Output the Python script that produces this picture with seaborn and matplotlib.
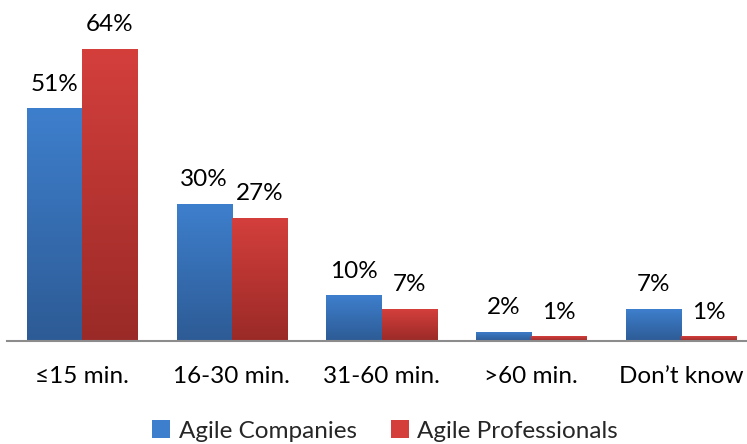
import numpy as np
import pandas as pd
import matplotlib
matplotlib.use("Agg")
import matplotlib.pyplot as plt
import seaborn as sns
from matplotlib.colors import LinearSegmentedColormap
from matplotlib.patches import Rectangle

categories = ["≤15 min.", "16-30 min.", "31-60 min.", ">60 min.", "Don’t know"]
series_names = ["Agile Companies", "Agile Professionals"]
companies = [51, 30, 10, 2, 7]
professionals = [64, 27, 7, 1, 1]

df = pd.DataFrame({
    "category": categories * 2,
    "series": [series_names[0]] * len(categories) + [series_names[1]] * len(categories),
    "value": companies + professionals,
})

sns.set_theme(style="white")
plt.rcParams["font.family"] = ["Lato", "DejaVu Sans"]

top_cols = {series_names[0]: "#3e7fcd", series_names[1]: "#d43f3c"}
bot_cols = {series_names[0]: "#2d5b95", series_names[1]: "#9a2a27"}

FS = 17.5
fig = plt.figure(figsize=(7.47, 4.44), dpi=100)
ax = fig.add_axes([7 / 747, (444 - 341) / 444, 749 / 747, (341 - 10) / 444])

sns.barplot(data=df, x="category", y="value", hue="series", order=categories,
            hue_order=series_names, palette=[top_cols[s] for s in series_names],
            width=0.735, saturation=1, ax=ax, legend=False)

ax.set_xlim(-0.5, len(categories) - 0.5)
ylim_top = (341 - 10) / 4.56
ax.set_ylim(0, ylim_top)

# gradient fill for each bar
grad = np.linspace(1, 0, 256).reshape(-1, 1)
for i, container in enumerate(ax.containers):
    s = series_names[i]
    cmap = LinearSegmentedColormap.from_list(s, [bot_cols[s], top_cols[s]])
    for patch in container.patches:
        x0, y0 = patch.get_x(), patch.get_y()
        w, h = patch.get_width(), patch.get_height()
        im = ax.imshow(grad, cmap=cmap, extent=(x0, x0 + w, y0, y0 + h),
                       aspect="auto", zorder=patch.get_zorder() + 0.1, vmin=0, vmax=1)
        im.set_clip_path(patch)
    ax.bar_label(container, labels=[f"{v:.0f}%" for v in container.datavalues],
                 padding=10, fontsize=FS, color="#000000")

ax.set_xlim(-0.5, len(categories) - 0.5)
ax.set_ylim(0, ylim_top)

ax.set_xlabel("")
ax.set_ylabel("")
ax.set_yticks([])
ax.tick_params(axis="x", length=0, pad=18, labelsize=FS, colors="#000000")
for side in ["top", "right", "left"]:
    ax.spines[side].set_visible(False)
ax.spines["bottom"].set_color("#8c8c8c")
ax.spines["bottom"].set_linewidth(1.5)

handles = [Rectangle((0, 0), 1, 1, facecolor=top_cols[s], edgecolor="none") for s in series_names]
fig.legend(handles, series_names, loc="center", bbox_to_anchor=(385 / 747, 1 - 431 / 444),
           ncol=2, frameon=False, fontsize=FS, handlelength=0.75, handleheight=0.75,
           handletextpad=0.35, columnspacing=1.4)

fig.savefig("out.png", dpi=100)
